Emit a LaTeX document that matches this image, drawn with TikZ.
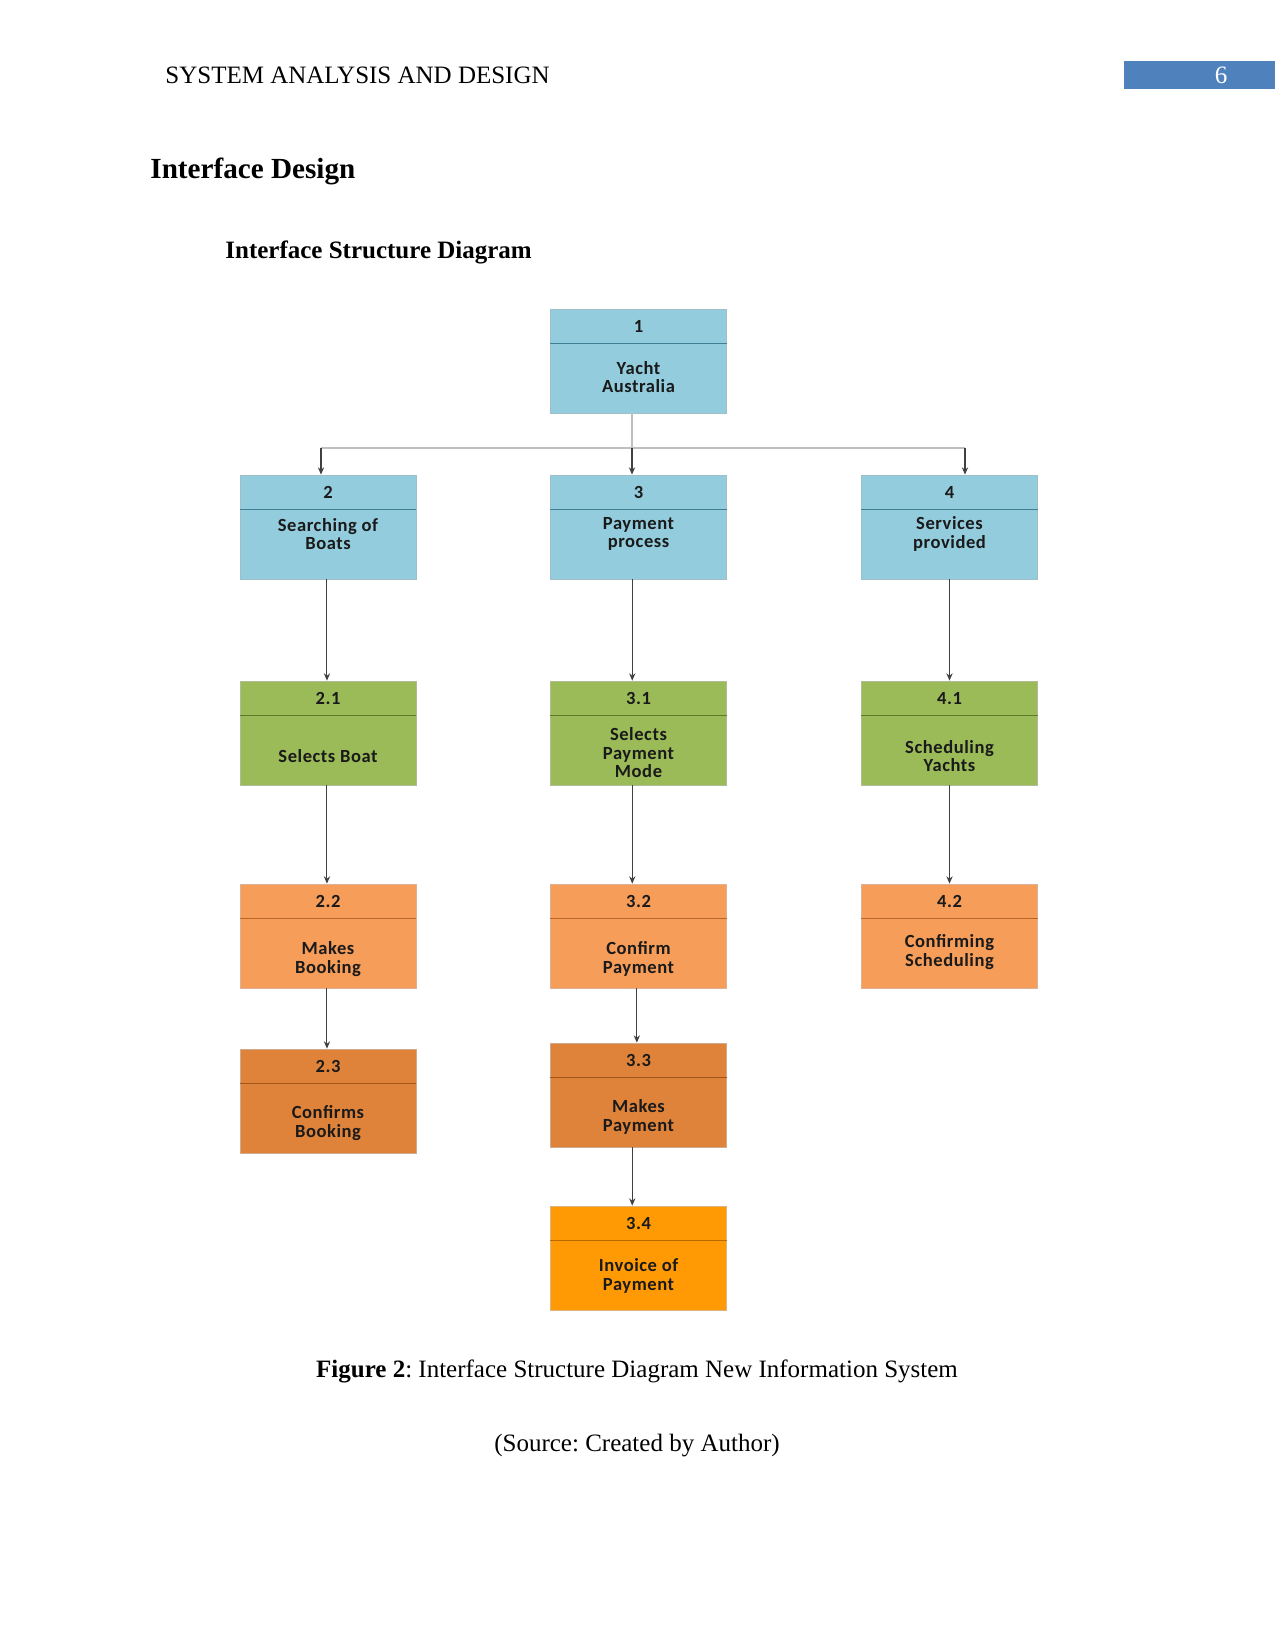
\documentclass[tikz,border=0pt]{standalone}
\usepackage{fontspec}
\setmainfont{Liberation Serif}
\newfontfamily\boxfont[LetterSpace=3]{Carlito}
\usetikzlibrary{arrows.meta,calc}
\definecolor{cblue}{HTML}{93CDDD}
\definecolor{cbluel}{HTML}{3F7F93}
\definecolor{cgreen}{HTML}{9BBB59}
\definecolor{cgreenl}{HTML}{5E7A2A}
\definecolor{corange}{HTML}{F59D59}
\definecolor{corangel}{HTML}{B8652A}
\definecolor{cdorange}{HTML}{DF833A}
\definecolor{cdorangel}{HTML}{A0561C}
\definecolor{cyorange}{HTML}{FF9A05}
\definecolor{cyorangel}{HTML}{B86A00}
\definecolor{pageblue}{HTML}{4F81BD}
\definecolor{boxtext}{HTML}{1A1A1A}
\tikzset{
  boxsty/.style={rectangle, minimum width=84.5pt, minimum height=49.9pt, inner sep=0pt, line width=0.4pt},
  txt/.style={font=\boxfont\bfseries\fontsize{8.9}{8.9}\selectfont, text=boxtext, align=center, inner sep=0pt},
  arr/.style={draw=black!75, line width=0.5pt, -{Stealth[length=3.5pt,width=3pt]}},
  lightline/.style={draw=black!25, line width=0.5pt},
}
% #1 name, #2 centre x, #3 top y, #4 fill, #5 line, #6 number, #7 label, #8 label y
\newcommand\ibox[8]{%
  \node[boxsty, fill=#4, draw=#5!50!white] (#1) at (#2,#3+52) {};
  \draw[#5, line width=0.5pt] ([yshift=-16.8pt]#1.north west) -- ([yshift=-16.8pt]#1.north east);
  \node[txt] (#1n) at ([yshift=-8.4pt]#1.north) {#6};
  \node[txt] (#1l) at (#2,#8) {#7};
}
\begin{document}
\frenchspacing
\begin{tikzpicture}[x=0.48pt, y=-0.48pt]
\useasboundingbox (0,0) rectangle (1275,1651);
\fill[white] (0,0) rectangle (1275,1651);
% header
\node[anchor=west, font=\fontsize{12}{14}\selectfont, inner sep=0pt] (hdr) at (165,75) {SYSTEM ANALYSIS AND DESIGN};
\fill[pageblue] (1124,61) rectangle (1275,89);
\node[text=white, font=\fontsize{12}{14}\selectfont, inner sep=0pt] (pg) at (1221,75) {6};
\node[anchor=west, font=\bfseries\fontsize{14}{16}\selectfont, inner sep=0pt] (h1) at (150,171) {Interface Design};
\node[anchor=west, font=\bfseries\fontsize{12}{14}\selectfont, inner sep=0pt] (h2) at (225,252) {Interface Structure Diagram};

% boxes
\ibox{b1}{638.5}{309}{cblue}{cbluel}{1}{Yacht\\Australia}{377}
\ibox{b2}{328}{475}{cblue}{cbluel}{2}{Searching of\\Boats}{534}
\ibox{b3}{638.5}{475}{cblue}{cbluel}{3}{Payment\\process}{534}
\ibox{b4}{949.5}{475}{cblue}{cbluel}{4}{Services\\provided}{534}
\ibox{b21}{328}{681}{cgreen}{cgreenl}{2.1}{Selects Boat}{756}
\ibox{b31}{638.5}{681}{cgreen}{cgreenl}{3.1}{Selects\\Payment\\Mode}{753}
\ibox{b41}{949.5}{681}{cgreen}{cgreenl}{4.1}{Scheduling\\Yachts}{756}
\ibox{b22}{328}{884}{corange}{corangel}{2.2}{Makes\\Booking}{959}
\ibox{b32}{638.5}{884}{corange}{corangel}{3.2}{Confirm\\Payment}{959}
\ibox{b42}{949.5}{884}{corange}{corangel}{4.2}{Confirming\\Scheduling}{952}
\ibox{b23}{328}{1049}{cdorange}{cdorangel}{2.3}{Confirms\\Booking}{1123}
\ibox{b33}{638.5}{1043}{cdorange}{cdorangel}{3.3}{Makes\\Payment}{1117}
\ibox{b34}{638.5}{1206}{cyorange}{cyorangel}{3.4}{Invoice of\\Payment}{1276}

% tree connectors
\coordinate (hl) at (321,448);
\coordinate (hm) at (632,448);
\coordinate (hr) at (965,448);
\draw[lightline] (hl) -- (hr);
\draw[lightline] (b1.south -| hm) -- (hm);
\draw[arr] (hl) -- (hl |- b2.north);
\draw[arr] (hm) -- (hm |- b3.north);
\draw[arr] (hr) -- (hr |- b4.north);

\draw[arr] ([xshift=-0.5pt]b2.south) -- ([xshift=-0.5pt]b21.north);
\draw[arr] ([xshift=-0.5pt]b21.south) -- ([xshift=-0.5pt]b22.north);
\draw[arr] ([xshift=-0.5pt]b22.south) -- ([xshift=-0.5pt]b23.north);
\draw[arr] ([xshift=-3pt]b3.south) -- ([xshift=-3pt]b31.north);
\draw[arr] ([xshift=-3pt]b31.south) -- ([xshift=-3pt]b32.north);
\draw[arr] ([xshift=-0.8pt]b32.south) -- ([xshift=-0.8pt]b33.north);
\draw[arr] ([xshift=-3pt]b33.south) -- ([xshift=-3pt]b34.north);
\draw[arr] (b4.south) -- (b41.north);
\draw[arr] (b41.south) -- (b42.north);

% caption
\node[font=\fontsize{12}{14}\selectfont, inner sep=0pt] (cap) at (637,1371) {\textbf{Figure 2}: Interface Structure Diagram New Information System};
\node[font=\fontsize{12}{14}\selectfont, inner sep=0pt] (src) at (637,1446) {(Source: Created by Author)};
\end{tikzpicture}
\end{document}
